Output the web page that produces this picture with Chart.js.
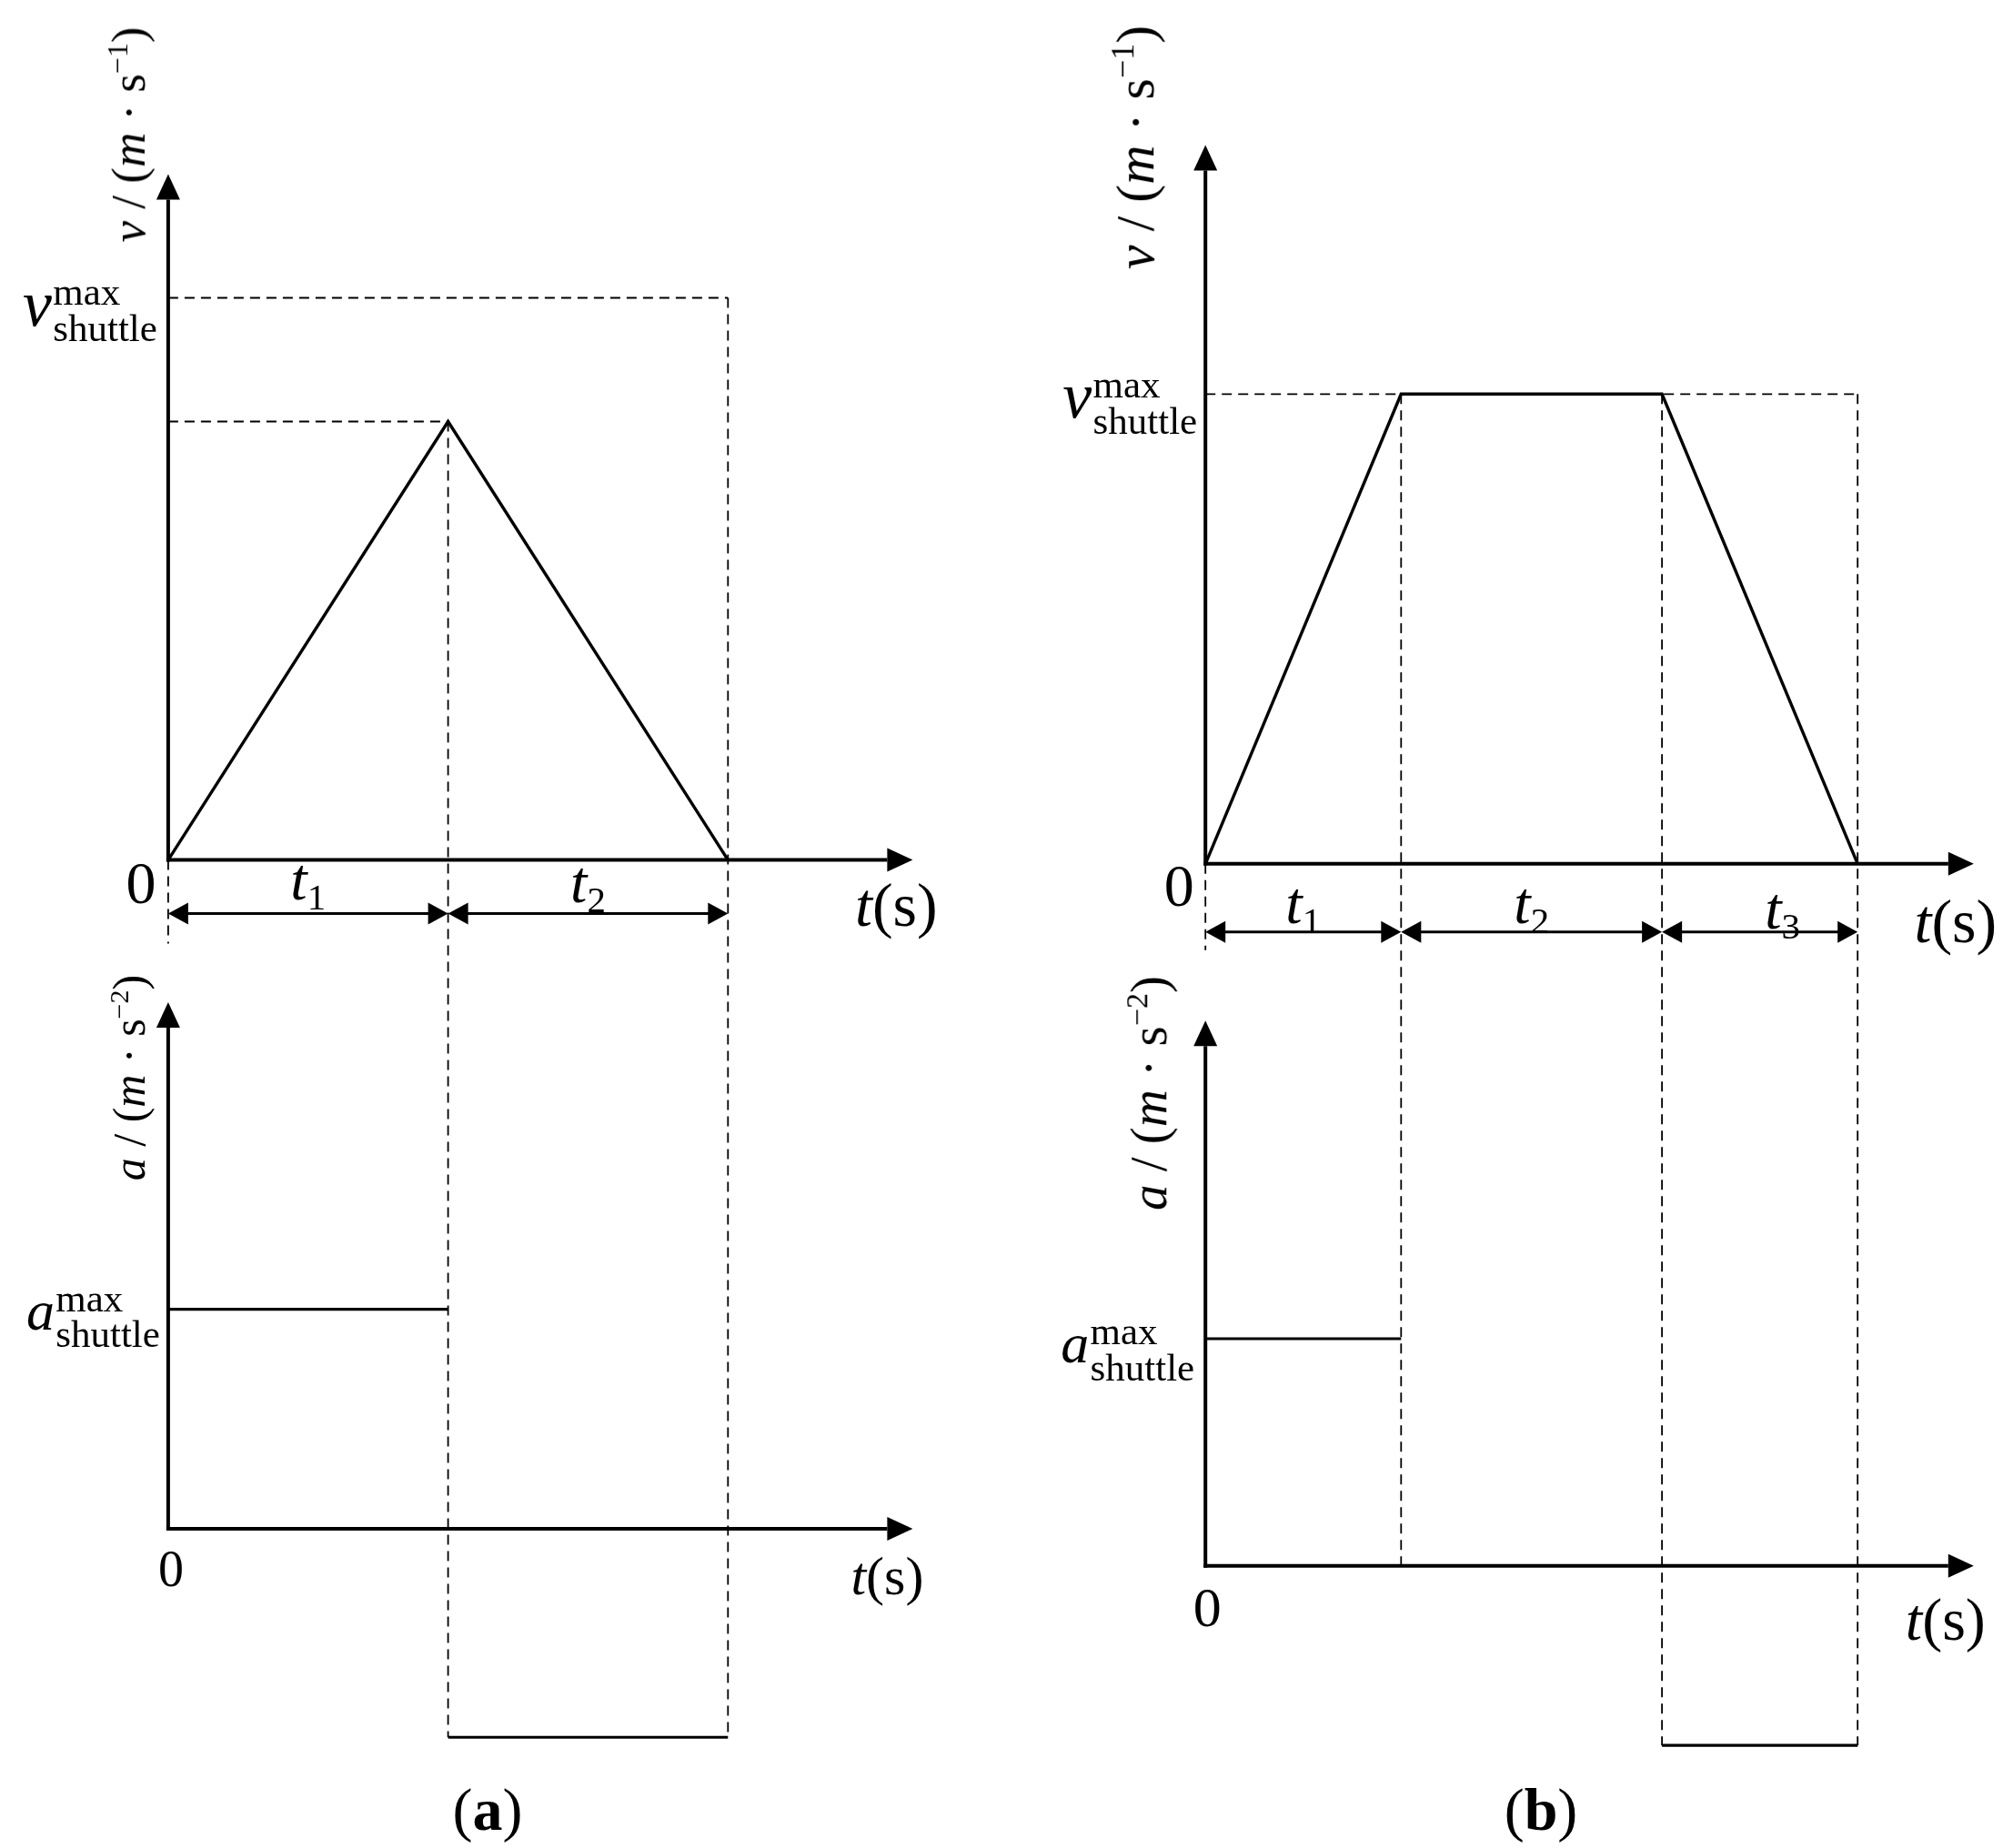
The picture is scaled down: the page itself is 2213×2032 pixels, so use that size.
<!DOCTYPE html>
<html>
<head>
<meta charset="utf-8">
<script src="https://cdn.jsdelivr.net/npm/chart.js@4.4.1/dist/chart.umd.min.js"></script>
<style>
  html, body { margin: 0; padding: 0; background: #fff; }
  #wrap { position: relative; width: 2213px; height: 2032px; overflow: hidden;
    font-family: "Liberation Serif", "DejaVu Serif", serif; color: #000; }
  #c { position: absolute; left: 0; top: 0; }
  .lbl { position: absolute; white-space: nowrap; line-height: 1; transform: translate(-50%, -50%); }
  .rgt { transform: translate(-100%, -50%); }
  .rot { transform: translate(-50%, -50%) rotate(-90deg); }
  .ss { display: inline-flex; flex-direction: column; vertical-align: middle; line-height: 0.92;
    font-size: 43px; margin-left: 0.03em; font-style: normal; }
  .sub { font-size: 0.62em; vertical-align: -0.28em; font-style: normal; }
  .sup { font-size: 0.6em; vertical-align: 0.6em; }
  b { font-weight: bold; }
</style>
</head>
<body>
<div id="wrap"><canvas id="c" width="2213" height="2032"></canvas></div>
<script>
// ── panel (a): triangular profile, v_max never reached ──
const phasesA = ["1", "2"];            // subscripts of t1, t2
const durA = [1.0, 1.0];               // phase durations
const velA = [0, 0.78, 0];             // v at phase boundaries (x v_max)
const accA = [1.0, -0.95];             // a during each phase (x a_max)
const vMaxA = 1.0;

// ── panel (b): trapezoidal profile ──
const phasesB = ["1", "2", "3"];
const durB = [1.5, 2.0, 1.5];
const velB = [0, 1.0, 1.0, 0];
const accB = [1.0, 0, -0.79];
const vMaxB = 1.0;

// axis extents (where the arrow tips sit)
const tTipA = 2.66, vTipA = 1.22, aTipA = 2.40;
const tTipB = 5.89, vTipB = 1.53, aTipB = 2.40;

// ── layout (px) ──
const W = 2213, H = 2032;
const fitX = (p0, k) => ({ min: -p0 / k, max: (W - p0) / k });
const fitY = (p0, k) => ({ min: -(H - p0) / k, max: p0 / k });

const bounds = (d) => d.reduce((acc, x) => { acc.push(acc[acc.length - 1] + x); return acc; }, [0]);
const bA = bounds(durA), bB = bounds(durB);

function accSegments(b, acc) {
  const pts = [];
  acc.forEach((a, i) => {
    if (a === 0) return;
    pts.push({ x: b[i], y: a }, { x: b[i + 1], y: a }, { x: b[i + 1], y: null });
  });
  return pts;
}

const solid = (data, xID, yID, w) => ({ data, xAxisID: xID, yAxisID: yID, borderColor: "#000",
  borderWidth: w, pointRadius: 0, fill: false, borderJoinStyle: "miter", spanGaps: false });
const dashed = (data, xID, yID) => ({ ...solid(data, xID, yID, 1.8), borderDash: [11, 7] });

const peakA = Math.max(...velA), peakTA = bA[velA.indexOf(peakA)];
const datasets = [
  solid(bA.map((t, i) => ({ x: t, y: velA[i] })), "xa", "va", 3.4),
  solid(accSegments(bA, accA), "xa", "aa", 3.2),
  dashed([{ x: 0, y: vMaxA }, { x: bA[bA.length - 1], y: vMaxA }], "xa", "va"),
  dashed([{ x: 0, y: peakA }, { x: peakTA, y: peakA }], "xa", "va"),
  solid(bB.map((t, i) => ({ x: t, y: velB[i] })), "xb", "vb", 3.4),
  solid(accSegments(bB, accB), "xb", "ab", 3.2),
  dashed([{ x: 0, y: vMaxB }, { x: bB[bB.length - 1], y: vMaxB }], "xb", "vb"),
];

function arrowHead(ctx, x, y, dx, dy, len, half) {
  const bx = x - dx * len, by = y - dy * len;
  ctx.beginPath();
  ctx.moveTo(x, y);
  ctx.lineTo(bx - dy * half, by + dx * half);
  ctx.lineTo(bx + dy * half, by - dx * half);
  ctx.closePath();
  ctx.fill();
}

function line(ctx, x1, y1, x2, y2) {
  ctx.beginPath(); ctx.moveTo(x1, y1); ctx.lineTo(x2, y2); ctx.stroke();
}

// axes, arrowheads, dimension arrows and cross-plot dashed guides
function drawPanel(ctx, s, p) {
  const X = s[p.x], V = s[p.v], A = s[p.a];
  const x0 = X.getPixelForValue(0), v0 = V.getPixelForValue(0), a0 = A.getPixelForValue(0);
  const last = p.b.length - 1;
  ctx.save();
  ctx.fillStyle = "#000"; ctx.strokeStyle = "#000";

  // dashed verticals through both plots
  ctx.lineWidth = 1.8; ctx.setLineDash([11, 7]);
  for (let i = 1; i <= last; i++) {
    const top = i === last ? p.vMax : p.vel[i];
    const bot = Math.min(p.acc[i - 1], i < p.acc.length ? p.acc[i] : 0, 0);
    const x = X.getPixelForValue(p.b[i]);
    line(ctx, x, V.getPixelForValue(top), x, A.getPixelForValue(bot));
  }
  line(ctx, x0, v0, x0, v0 + p.tick);
  ctx.setLineDash([]);

  // axes
  const L = 28, HW = 13;
  ctx.lineWidth = 4;
  [[v0, V.getPixelForValue(p.vTip)], [a0, A.getPixelForValue(p.aTip)]].forEach(([y0, yt]) => {
    line(ctx, x0, y0 + 2, x0, yt + L);
    arrowHead(ctx, x0, yt, 0, -1, L, HW);
    const xt = X.getPixelForValue(p.tTip);
    line(ctx, x0 - 2, y0, xt - L, y0);
    arrowHead(ctx, xt, y0, 1, 0, L, HW);
  });

  // dimension arrows t1, t2, ...
  const yd = v0 + p.dimOff;
  ctx.lineWidth = 3;
  for (let i = 0; i < last; i++) {
    const xl = X.getPixelForValue(p.b[i]), xr = X.getPixelForValue(p.b[i + 1]);
    line(ctx, xl + 18, yd, xr - 18, yd);
    arrowHead(ctx, xl, yd, -1, 0, 22, 12);
    arrowHead(ctx, xr, yd, 1, 0, 22, 12);
  }
  ctx.restore();
}

const panels = [
  { x: "xa", v: "va", a: "aa", b: bA, vel: velA, acc: accA, vMax: vMaxA,
    tTip: tTipA, vTip: vTipA, aTip: aTipA, dimOff: 59, tick: 92 },
  { x: "xb", v: "vb", a: "ab", b: bB, vel: velB, acc: accB, vMax: vMaxB,
    tTip: tTipB, vTip: vTipB, aTip: aTipB, dimOff: 75, tick: 95 },
];

const axesPlugin = {
  id: "motionAxes",
  afterDatasetsDraw(chart) {
    panels.forEach((p) => drawPanel(chart.ctx, chart.scales, p));
  },
};

const hidden = (axis, r) => ({ type: "linear", axis, display: false, bounds: "data", ...r });

const chart = new Chart(document.getElementById("c"), {
  type: "line",
  data: { datasets },
  options: {
    responsive: false, animation: false, devicePixelRatio: 1, events: [],
    layout: { padding: 0 },
    plugins: { legend: { display: false }, tooltip: { enabled: false } },
    scales: {
      xa: hidden("x", fitX(184.9, 307.7)),
      va: hidden("y", fitY(945.6, 618.1)),
      aa: hidden("y", fitY(1681.0, 241.3)),
      xb: hidden("x", fitX(1325.2, 143.4)),
      vb: hidden("y", fitY(949.8, 516.5)),
      ab: hidden("y", fitY(1721.8, 249.8)),
    },
  },
  plugins: [axesPlugin],
});

// ── text labels, placed from the chart's scales ──
const wrap = document.getElementById("wrap");
const sc = chart.scales;
const px = (id, v) => sc[id].getPixelForValue(v);

function put(html, x, y, size, cls = "") {
  const el = document.createElement("div");
  el.className = "lbl " + cls;
  el.style.left = x + "px";
  el.style.top = y + "px";
  el.style.fontSize = size + "px";
  el.innerHTML = html;
  wrap.appendChild(el);
}

const tSub = (n) => `<i>t</i><span class="sub">${n}</span>`;
const maxLabel = (sym) => `<i>${sym}</i><span class="ss"><span>max</span><span>shuttle</span></span>`;
const vUnit = `<i>v</i> / (<i>m</i> · s<span class="sup">−1</span>)`;
const aUnit = `<i>a</i> / (<i>m</i> · s<span class="sup">−2</span>)`;

// panel (a)
put("0", px("xa", 0) - 30, px("va", 0) + 25, 66);
phasesA.forEach((n, i) => put(tSub(n), px("xa", (bA[i] + bA[i + 1]) / 2), px("va", 0) + 25 + i * 3, 66));
put("<i>t</i>(s)", px("xa", tTipA) - 18, px("va", 0) + 49, 68);
put(vUnit, 141, 148, 53, "rot");
put(maxLabel("v"), px("xa", 0) - 12, px("va", vMaxA) + 12, 72, "rgt");
put(aUnit, 141, 1185, 50, "rot");
put(maxLabel("a"), px("xa", 0) - 9, px("aa", 1) + 8, 62, "rgt");
put("0", px("xa", 0) + 3, px("aa", 0) + 44, 56);
put("<i>t</i>(s)", px("xa", tTipA) - 28, px("aa", 0) + 52, 60);
put("(<b>a</b>)", 536, 1990, 66);

// panel (b)
put("0", px("xb", 0) - 29, px("vb", 0) + 24, 66);
phasesB.forEach((n, i) => put(tSub(n), px("xb", (bB[i] + bB[i + 1]) / 2) + (i === 2 ? 25 : 0), px("vb", 0) + 47 + (i === 2 ? 6 : 0), 66));
put("<i>t</i>(s)", px("xb", tTipB) - 20, px("vb", 0) + 63, 68);
put(vUnit, 1247, 162, 60, "rot");
put(maxLabel("v"), px("xb", 0) - 9, px("vb", vMaxB) + 8, 72, "rgt");
put(aUnit, 1262, 1202, 57, "rot");
put(maxLabel("a"), px("xb", 0) - 12, px("ab", 1) + 12, 62, "rgt");
put("0", px("xb", 0) + 2, px("ab", 0) + 45, 62);
put("<i>t</i>(s)", px("xb", tTipB) - 31, px("ab", 0) + 59, 66);
put("(<b>b</b>)", 1694, 1990, 66);
</script>
</body>
</html>
